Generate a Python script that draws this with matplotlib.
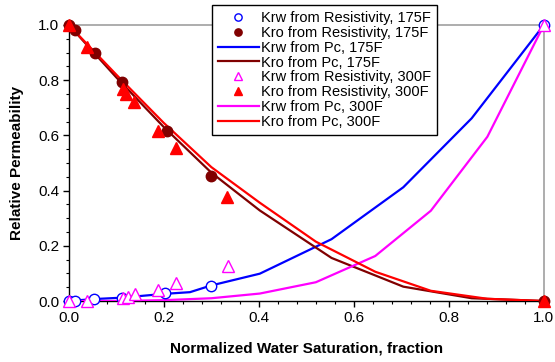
import matplotlib
matplotlib.use("Agg")
import matplotlib.pyplot as plt
from matplotlib.ticker import MultipleLocator

plt.rcParams["font.family"] = ["Liberation Sans", "DejaVu Sans"]

# ---- resistivity-derived points ----
krw_res_175_sw = [0.0, 0.014, 0.053, 0.111, 0.202, 0.299, 1.0]
krw_res_175 = [0.0, 0.0, 0.007, 0.01, 0.028, 0.056, 1.0]
kro_res_175_sw = [0.0, 0.014, 0.055, 0.111, 0.206, 0.299, 1.0]
kro_res_175 = [1.0, 0.98, 0.898, 0.795, 0.617, 0.453, 0.0]

krw_res_300_sw = [0.0, 0.039, 0.114, 0.125, 0.139, 0.188, 0.225, 0.335, 1.0]
krw_res_300 = [0.0, 0.0, 0.01, 0.016, 0.025, 0.04, 0.064, 0.128, 1.0]
kro_res_300_sw = [0.0, 0.039, 0.114, 0.121, 0.137, 0.188, 0.225, 0.334, 1.0]
kro_res_300 = [1.0, 0.921, 0.768, 0.75, 0.722, 0.617, 0.553, 0.378, 0.0]

# ---- capillary-pressure-derived curves ----
krw_pc_175_sw = [0.0, 0.053, 0.111, 0.202, 0.255, 0.299, 0.402, 0.553, 0.704, 0.848, 1.0]
krw_pc_175 = [0.0, 0.007, 0.012, 0.026, 0.032, 0.056, 0.099, 0.224, 0.412, 0.662, 1.0]
kro_pc_175_sw = [0.0, 0.1, 0.2, 0.3, 0.402, 0.553, 0.704, 0.848, 1.0]
kro_pc_175 = [1.0, 0.81, 0.63, 0.465, 0.328, 0.156, 0.052, 0.01, 0.0]

krw_pc_300_sw = [0.0, 0.1, 0.2, 0.3, 0.402, 0.52, 0.645, 0.762, 0.881, 1.0]
krw_pc_300 = [0.0, 0.0, 0.003, 0.01, 0.027, 0.068, 0.163, 0.327, 0.595, 1.0]
kro_pc_300_sw = [0.0, 0.1, 0.2, 0.3, 0.402, 0.52, 0.645, 0.762, 0.881, 1.0]
kro_pc_300 = [1.0, 0.82, 0.645, 0.485, 0.356, 0.215, 0.106, 0.037, 0.008, 0.0]

fig = plt.figure(figsize=(5.55, 3.62), dpi=100)
ax = fig.add_axes([0.124, 0.1685, 0.856, 0.7625])

ax.plot(krw_res_175_sw, krw_res_175, "o", mfc="white", mec="#0000ff", ms=7.5,
        mew=1.0, ls="none", clip_on=False, zorder=4, label="Krw from Resistivity, 175F")
ax.plot(kro_res_175_sw, kro_res_175, "o", color="#800000", ms=7.5,
        ls="none", clip_on=False, zorder=4, label="Kro from Resistivity, 175F")
ax.plot(krw_pc_175_sw, krw_pc_175, color="#0000ff", lw=1.6, zorder=3,
        label="Krw from Pc, 175F")
ax.plot(kro_pc_175_sw, kro_pc_175, color="#800000", lw=1.6, zorder=3,
        label="Kro from Pc, 175F")
ax.plot(krw_res_300_sw, krw_res_300, "^", mfc="white", mec="#ff00ff", ms=8,
        mew=1.0, ls="none", clip_on=False, zorder=5, label="Krw from Resistivity, 300F")
ax.plot(kro_res_300_sw, kro_res_300, "^", color="#ff0000", ms=8,
        ls="none", clip_on=False, zorder=5, label="Kro from Resistivity, 300F")
ax.plot(krw_pc_300_sw, krw_pc_300, color="#ff00ff", lw=1.6, zorder=3,
        label="Krw from Pc, 300F")
ax.plot(kro_pc_300_sw, kro_pc_300, color="#ff0000", lw=1.6, zorder=3,
        label="Kro from Pc, 300F")

ax.set_xlim(0, 1)
ax.set_ylim(0, 1)
ax.xaxis.set_major_locator(MultipleLocator(0.2))
ax.xaxis.set_minor_locator(MultipleLocator(0.04))
ax.yaxis.set_major_locator(MultipleLocator(0.2))
ax.yaxis.set_minor_locator(MultipleLocator(0.05))
ax.xaxis.set_major_formatter(lambda v, p: f"{v:.1f}")
ax.yaxis.set_major_formatter(lambda v, p: f"{v:.1f}")
ax.tick_params(which="major", direction="out", length=4, width=1, labelsize=11,
               top=False, right=False, pad=3)
ax.tick_params(which="minor", direction="out", length=2.5, width=0.8,
               top=False, right=False)
ax.tick_params(axis="x", which="major", pad=3)

for side in ["top", "right"]:
    ax.spines[side].set_color("#a0a0a0")
    ax.spines[side].set_linewidth(1.2)
for side in ["left", "bottom"]:
    ax.spines[side].set_linewidth(1.0)

ax.set_xlabel("Normalized Water Saturation, fraction", fontsize=11, fontweight="bold",
              labelpad=12)
ax.set_ylabel("Relative Permeability", fontsize=11, fontweight="bold", labelpad=10)

leg = ax.legend(loc="upper right", bbox_to_anchor=(0.787, 0.986),
                bbox_transform=fig.transFigure, fontsize=10.5, numpoints=1,
                markerscale=0.7, handlelength=2.8, handletextpad=0.15,
                labelspacing=0.06, borderpad=0.4, borderaxespad=0,
                fancybox=False, framealpha=1)
leg.get_frame().set_edgecolor("black")
leg.get_frame().set_linewidth(1.0)
leg.set_zorder(10)

fig.savefig("out.png", dpi=100)
